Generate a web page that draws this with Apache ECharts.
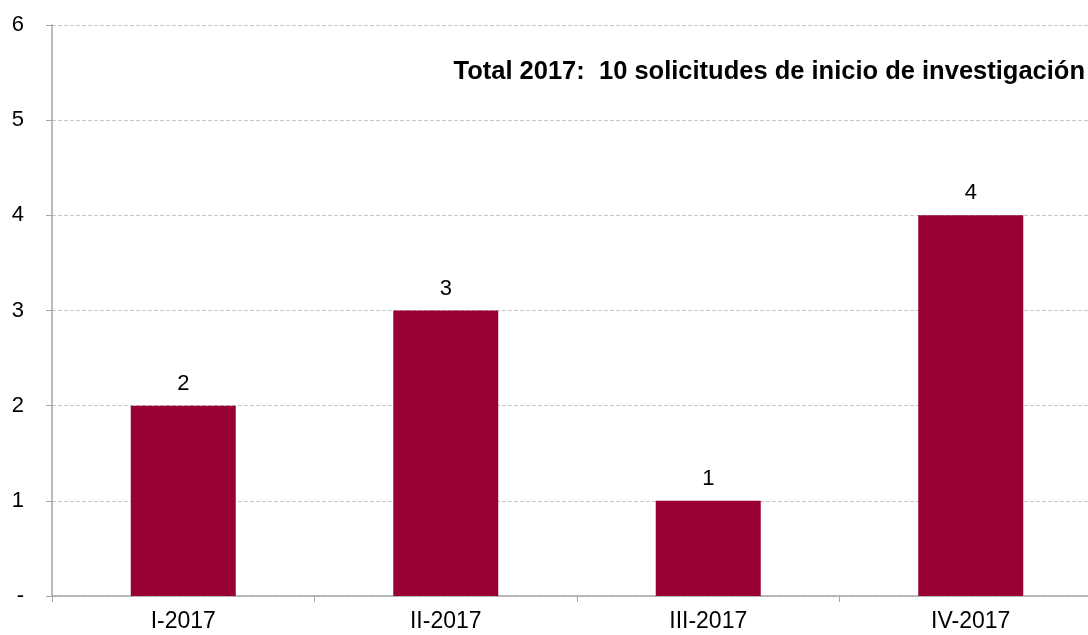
<!DOCTYPE html>
<html>
<head>
<meta charset="utf-8">
<script src="https://cdn.jsdelivr.net/npm/echarts@6/dist/echarts.min.js"></script>
<style>
  html, body { margin: 0; padding: 0; background: #fff; }
  #chart { width: 1088px; height: 635px; }
</style>
</head>
<body>
<div id="chart"></div>
<script>
const categories = ['I-2017', 'II-2017', 'III-2017', 'IV-2017']
const solicitudes = [2, 3, 1, 4]
const yTickLabels = ['-', '1', '2', '3', '4', '5', '6']
const titleText = 'Total 2017:  10 solicitudes de inicio de investigación'

const chart = echarts.init(document.getElementById('chart'))
const font = 'Liberation Sans, Arial, sans-serif'

chart.setOption({
  animation: false,
  title: {
    text: titleText,
    right: 3,
    top: 59,
    padding: 0,
    textStyle: { fontFamily: font, fontSize: 25.5, fontWeight: 'bold', color: '#000' },
  },
  // plot area runs past the right edge of the picture
  grid: { left: 52, width: 1050, top: 25, bottom: 39, outerBoundsMode: 'none', containLabel: false },
  xAxis: {
    type: 'category',
    data: categories,
    axisLine: { lineStyle: { color: '#a6a6a6', width: 1.5 } },
    axisTick: { show: true, length: 6, lineStyle: { color: '#a6a6a6' } },
    axisLabel: { fontFamily: font, fontSize: 23, color: '#000', margin: 14 },
  },
  yAxis: {
    type: 'value',
    min: 0,
    max: 6,
    interval: 1,
    axisLine: { show: true, lineStyle: { color: '#a6a6a6', width: 1.5 } },
    axisTick: { show: true, length: 6, lineStyle: { color: '#a6a6a6' } },
    axisLabel: {
      fontFamily: font, fontSize: 22, color: '#000', margin: 28,
      formatter: (v) => yTickLabels[v],
    },
    splitLine: { lineStyle: { color: '#c8c8c8', type: [4, 2], width: 1 } },
  },
  series: [
    {
      type: 'bar',
      data: solicitudes,
      barWidth: '40%',
      itemStyle: { color: '#990033' },
      label: {
        show: true,
        position: 'top',
        distance: 11,
        fontFamily: font,
        fontSize: 22,
        color: '#000',
      },
    },
  ],
})
</script>
</body>
</html>
